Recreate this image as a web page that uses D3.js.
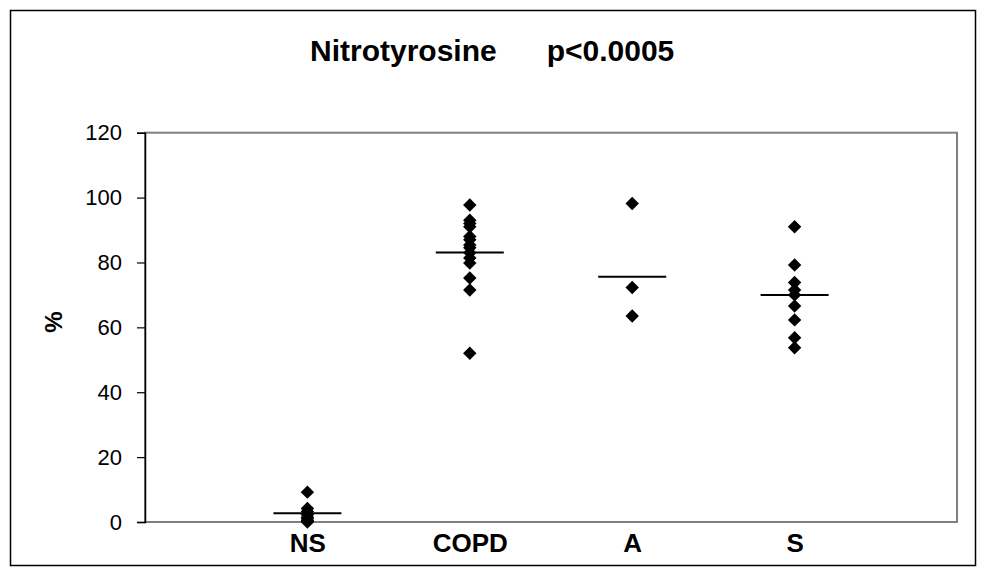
<!DOCTYPE html>
<html>
<head>
<meta charset="utf-8">
<script src="https://cdn.jsdelivr.net/npm/d3@7"></script>
<style>
  body { margin: 0; background: #fff; }
  svg { display: block; font-family: "Liberation Sans", Arial, sans-serif; }
</style>
</head>
<body>
<svg id="chart"></svg>
<script>
// groups and the values
let groups = ["NS", "COPD", "A", "S"];
let nsValues = [9.2, 4.2, 3.2, 2.2, 1.5, 1, 0.5, 0.2, 0];
let copdValues = [97.7, 93, 92, 91, 88, 87, 85.4, 84.5, 83, 81.4, 79.8, 75.2, 71.5, 52];
let aValues = [98.2, 72.3, 63.5];
let sValues = [91, 79.2, 73.8, 71.5, 70, 66.6, 62.3, 56.8, 53.7];
let lineValues = [2.7, 83.1, 75.6, 70]; // horizontal bar per group
let yTicks = [0, 20, 40, 60, 80, 100, 120];

let width = 986;
let height = 574;
let plotLeft = 145, plotRight = 957, plotTop = 132.7, plotBottom = 522;

let points = [];
[nsValues, copdValues, aValues, sValues].forEach((vals, i) => {
    vals.forEach((v) => points.push({ group: groups[i], value: v }));
});

let svg = d3.select("#chart")
    .attr("width", width)
    .attr("height", height);

// outer chart border
svg.append("rect")
    .attr("x", 10.5).attr("y", 10.5)
    .attr("width", 965).attr("height", 555)
    .attr("fill", "none")
    .attr("stroke", "#000")
    .attr("stroke-width", 1.5);

let xScale = d3.scalePoint()
    .domain(groups)
    .range([plotLeft, plotRight])
    .padding(1);

let yScale = d3.scaleLinear()
    .domain([0, 120])
    .range([plotBottom, plotTop]);

// plot area frame (grey)
svg.append("rect")
    .attr("x", plotLeft).attr("y", plotTop)
    .attr("width", plotRight - plotLeft).attr("height", plotBottom - plotTop)
    .attr("fill", "none")
    .attr("stroke", "#808080")
    .attr("stroke-width", 2);

// y axis
let yAxis = d3.axisLeft(yScale)
    .tickValues(yTicks)
    .tickSize(8)
    .tickPadding(15)
    .tickFormat(d3.format("d"));

let yg = svg.append("g")
    .attr("transform", "translate(" + plotLeft + ",0)")
    .call(yAxis);
yg.select(".domain").attr("stroke", "#000").attr("stroke-width", 1.5);
yg.selectAll(".tick line").attr("stroke", "#000").attr("stroke-width", 1.2);
yg.selectAll(".tick text")
    .attr("font-size", 22)
    .attr("font-family", "Liberation Sans, Arial, sans-serif")
    .attr("fill", "#000");

// x axis (labels only)
let xAxis = d3.axisBottom(xScale).tickSize(0).tickPadding(12);
let xg = svg.append("g")
    .attr("transform", "translate(0," + plotBottom + ")")
    .call(xAxis);
xg.select(".domain").remove();
xg.selectAll(".tick text")
    .attr("font-size", 26)
    .attr("font-weight", "bold")
    .attr("font-family", "Liberation Sans, Arial, sans-serif")
    .attr("fill", "#000");

// y label
svg.append("text")
    .attr("transform", "translate(62,322) rotate(-90)")
    .attr("text-anchor", "middle")
    .attr("font-size", 24)
    .attr("font-weight", "bold")
    .text("%");

// title
svg.append("text")
    .attr("x", 310)
    .attr("y", 61)
    .attr("text-anchor", "start")
    .attr("font-size", 30)
    .attr("font-weight", "bold")
    .style("white-space", "pre")
    .text("Nitrotyrosine      p<0.0005");

// group bars
svg.selectAll(".meanline")
    .data(groups)
    .enter()
    .append("line")
    .attr("class", "meanline")
    .attr("x1", (g) => xScale(g) - 34)
    .attr("x2", (g) => xScale(g) + 34)
    .attr("y1", (g, i) => yScale(lineValues[i]))
    .attr("y2", (g, i) => yScale(lineValues[i]))
    .attr("stroke", "#000")
    .attr("stroke-width", 2);

// diamonds
let diamond = d3.symbol().type(d3.symbolSquare).size(90);
svg.selectAll(".dot")
    .data(points)
    .enter()
    .append("path")
    .attr("class", "dot")
    .attr("d", diamond)
    .attr("transform", (d) => "translate(" + xScale(d.group) + "," + yScale(d.value) + ") rotate(45)")
    .attr("fill", "#000");
</script>
</body>
</html>
